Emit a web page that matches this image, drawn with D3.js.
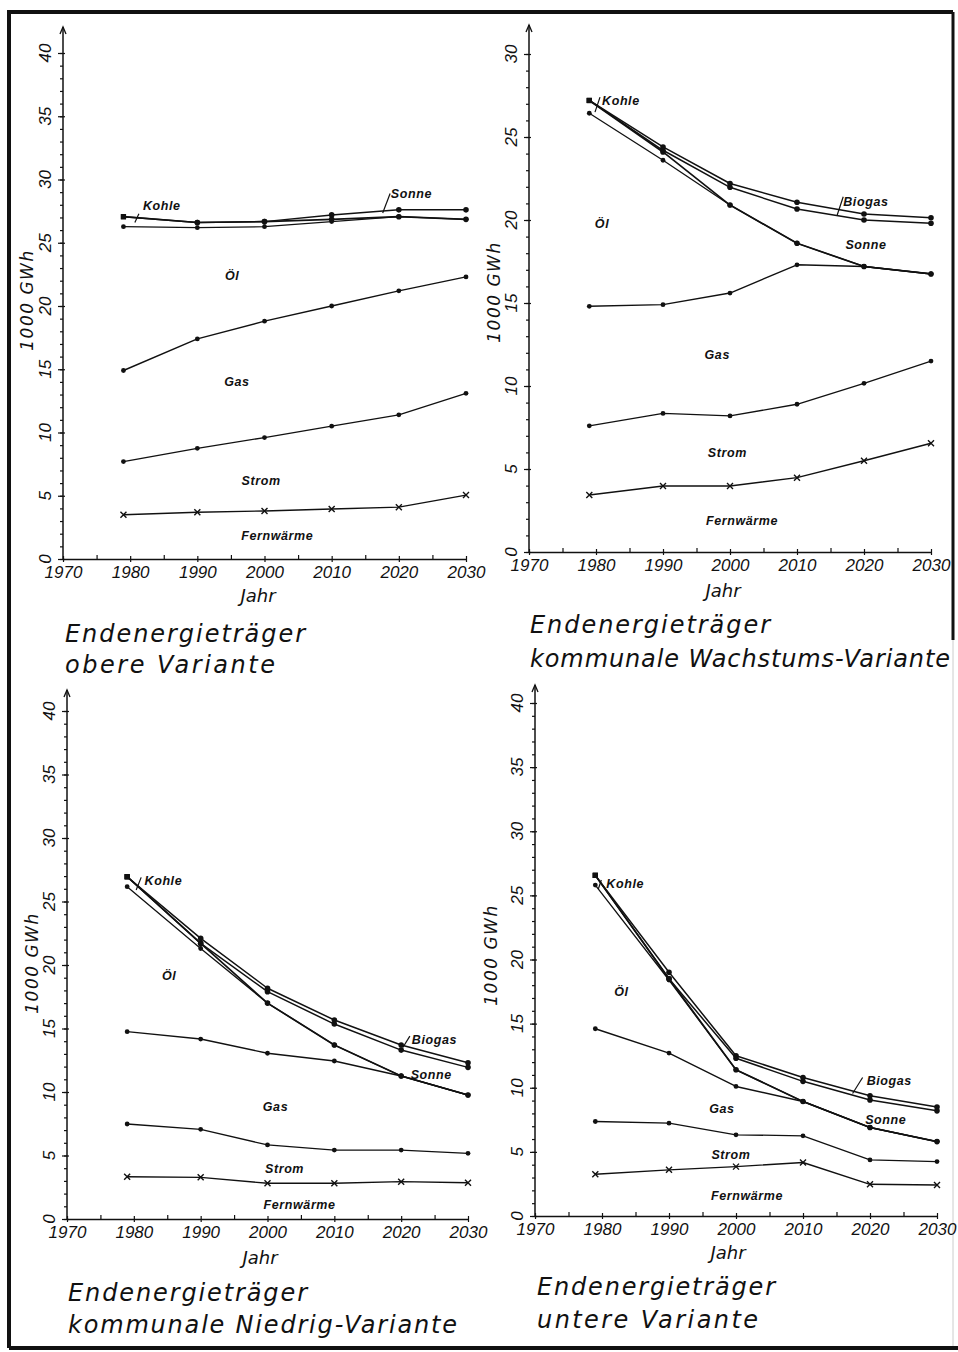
<!DOCTYPE html>
<html>
<head>
<meta charset="utf-8">
<script src="https://cdn.jsdelivr.net/npm/d3@7"></script>
<style>
  body { margin: 0; background: #fff; }
  svg { display: block; }
</style>
</head>
<body>
<svg id="chart" width="958" height="1352"></svg>
<script>
// years of the data points (first point is the base year, drawn just before 1980)
const years = [1979, 1990, 2000, 2010, 2020, 2030];
const xTicks = [1970, 1980, 1990, 2000, 2010, 2020, 2030];
const variants = ["obere Variante", "kommunale Wachstums-Variante",
                  "kommunale Niedrig-Variante", "untere Variante"];

// cumulative line values in 1000 GWh, one row per variant (order as above)
const fernwaerme = [
  [3.5, 3.7, 3.8, 3.95, 4.1, 5.05],
  [3.43, 3.98, 3.98, 4.48, 5.5, 6.55],
  [3.33, 3.28, 2.81, 2.81, 2.94, 2.86],
  [3.26, 3.6, 3.85, 4.17, 2.47, 2.42]
];
const strom = [
  [7.7, 8.75, 9.6, 10.5, 11.4, 13.1],
  [7.6, 8.35, 8.2, 8.9, 10.16, 11.5],
  [7.48, 7.06, 5.83, 5.43, 5.43, 5.17],
  [7.37, 7.24, 6.33, 6.25, 4.37, 4.24]
];
const gas = [
  [14.9, 17.4, 18.8, 20.0, 21.2, 22.3],
  [14.8, 14.9, 15.6, 17.3, 17.2, 16.75],
  [14.75, 14.17, 13.05, 12.44, 11.26, 9.76],
  [14.6, 12.7, 10.1, 8.93, 6.9, 5.8]
];
const oel = [
  [26.27, 26.19, 26.27, 26.67, 27.06, 26.85],
  [26.43, 23.6, 20.9, 18.6, 17.2, 16.75],
  [26.17, 21.3, 17.0, 13.7, 11.26, 9.76],
  [25.8, 18.4, 11.4, 8.93, 6.9, 5.8]
];
const kohle = [
  [27.06, 26.6, 26.67, 26.85, 27.06, 26.85],
  [27.2, 24.1, 20.9, 18.6, 17.2, 16.75],
  [26.95, 21.7, 17.0, 13.7, 11.26, 9.76],
  [26.56, 18.5, 11.4, 8.93, 6.9, 5.8]
];
const sonne = [
  [27.06, 26.6, 26.67, 27.2, 27.6, 27.6],
  [27.2, 24.2, 21.97, 20.66, 20.0, 19.8],
  [26.95, 21.7, 17.9, 15.35, 13.3, 11.94],
  [26.56, 18.5, 12.3, 10.5, 9.04, 8.2]
];
const biogas = [
  null,
  [27.2, 24.4, 22.2, 21.07, 20.36, 20.14],
  [26.95, 22.1, 18.17, 15.67, 13.7, 12.3],
  [26.56, 19.0, 12.5, 10.8, 9.375, 8.5]
];
const seriesNames = ["Fernwärme", "Strom", "Gas", "Öl", "Kohle", "Sonne", "Biogas"];
const seriesData = [fernwaerme, strom, gas, oel, kohle, sonne, biogas];

// panel layout (pixels)
const panels = [
  { x0: 63, x1: 466, yBase: 559, yMax: 40, yTopPx: 53, arrowTop: 27,
    yTitle: [28, 300], jahr: [258, 596], title: [65, 642, 673], capW: [240, 210] },
  { x0: 529, x1: 931, yBase: 552, yMax: 30, yTopPx: 54, arrowTop: 25,
    yTitle: [495, 292], jahr: [723, 591], title: [530, 633, 667], capW: [240, 420] },
  { x0: 67, x1: 468, yBase: 1219, yMax: 40, yTopPx: 711, arrowTop: 690,
    yTitle: [33, 963], jahr: [260, 1258], title: [68, 1301, 1333], capW: [239, 389] },
  { x0: 535, x1: 937, yBase: 1216, yMax: 40, yTopPx: 703, arrowTop: 685,
    yTitle: [492, 955], jahr: [728, 1253], title: [537, 1295, 1328], capW: [238, 221] }
];

// inline labels in data coordinates (year, value)
const inlineLabels = [
  [
    { t: "Kohle", yr: 1981.9, v: 27.6, a: "start", lead: [1981.3, 27.3, 1980.7, 26.6] },
    { t: "Sonne", yr: 2018.8, v: 28.5, a: "start", lead: [2018.7, 28.9, 2017.6, 27.35] },
    { t: "Öl", yr: 1995.2, v: 22.3, a: "middle" },
    { t: "Gas", yr: 1995.9, v: 13.9, a: "middle" },
    { t: "Strom", yr: 1999.5, v: 6.1, a: "middle" },
    { t: "Fernwärme", yr: 2001.9, v: 1.8, a: "middle" }
  ],
  [
    { t: "Kohle", yr: 1980.9, v: 26.9, a: "start", lead: [1980.6, 27.4, 1979.85, 26.5] },
    { t: "Biogas", yr: 2016.9, v: 20.84, a: "start", lead: [2016.9, 21.4, 2016.0, 20.3] },
    { t: "Sonne", yr: 2020.3, v: 18.45, a: "middle" },
    { t: "Öl", yr: 1980.9, v: 19.7, a: "middle" },
    { t: "Gas", yr: 1998.1, v: 11.8, a: "middle" },
    { t: "Strom", yr: 1999.6, v: 5.9, a: "middle" },
    { t: "Fernwärme", yr: 2001.8, v: 1.8, a: "middle" }
  ],
  [
    { t: "Kohle", yr: 1981.6, v: 26.3, a: "start", lead: [1981.1, 26.9, 1980.35, 25.9] },
    { t: "Öl", yr: 1985.3, v: 19.1, a: "middle" },
    { t: "Biogas", yr: 2021.6, v: 13.8, a: "start", lead: [2021.3, 14.4, 2020.25, 13.5] },
    { t: "Sonne", yr: 2024.5, v: 11.3, a: "middle" },
    { t: "Gas", yr: 2001.2, v: 8.8, a: "middle" },
    { t: "Strom", yr: 2002.55, v: 3.9, a: "middle" },
    { t: "Fernwärme", yr: 2004.8, v: 1.05, a: "middle" }
  ],
  [
    { t: "Kohle", yr: 1980.65, v: 25.6, a: "start", lead: [1979.9, 26.2, 1979.45, 25.5] },
    { t: "Öl", yr: 1982.9, v: 17.4, a: "middle" },
    { t: "Biogas", yr: 2019.5, v: 10.2, a: "start", lead: [2018.9, 10.8, 2017.4, 9.55] },
    { t: "Sonne", yr: 2022.35, v: 7.4, a: "middle" },
    { t: "Gas", yr: 1997.9, v: 8.3, a: "middle" },
    { t: "Strom", yr: 1999.25, v: 4.7, a: "middle" },
    { t: "Fernwärme", yr: 2001.65, v: 1.5, a: "middle" }
  ]
];

const svg = d3.select("#chart");
svg.append("rect").attr("width", 958).attr("height", 1352).attr("fill", "#fff");

const tickFont = "'Liberation Sans Narrow', 'Liberation Sans', sans-serif";
const handFont = "'DejaVu Sans', sans-serif";
const ink = "#111";

// outer frame of the scanned sheet
const frame = svg.append("g").attr("stroke", ink).attr("fill", "none");
frame.append("path").attr("d", "M9,1348 L9,12 L953,12").attr("stroke-width", 4);
frame.append("line").attr("x1", 953).attr("y1", 12).attr("x2", 953).attr("y2", 640).attr("stroke-width", 3);
frame.append("line").attr("x1", 953).attr("y1", 640).attr("x2", 953).attr("y2", 1348)
  .attr("stroke-width", 1).attr("stroke", "#ccc");
frame.append("line").attr("x1", 9).attr("y1", 1348).attr("x2", 958).attr("y2", 1348).attr("stroke-width", 4);

const strokeW = [1.4, 1.3, 1.4, 1.3, 1.7, 1.5, 1.5];

panels.forEach((p, i) => {
  const g = svg.append("g").attr("class", "panel");
  const x = d3.scaleLinear().domain([1970, 2030]).range([p.x0, p.x1]);
  const y = d3.scaleLinear().domain([0, p.yMax]).range([p.yBase, p.yTopPx]);

  // y axis: minor ticks every unit, major every 5
  const yMinor = g.append("g").attr("transform", `translate(${p.x0},0)`)
    .call(d3.axisLeft(y).tickValues(d3.range(0, p.yMax + 1, 1)).tickSize(3).tickFormat(""));
  const yMajor = g.append("g").attr("transform", `translate(${p.x0},0)`)
    .call(d3.axisLeft(y).tickValues(d3.range(0, p.yMax + 1, 5)).tickSizeInner(5).tickSizeOuter(0).tickFormat(""));
  [yMinor, yMajor].forEach(a => {
    a.select(".domain").remove();
    a.selectAll("line").attr("stroke", ink).attr("stroke-width", 1.2);
  });
  yMajor.selectAll(".tick line").attr("x2", 2).attr("x1", -5);

  // axis line with arrow
  g.append("line").attr("x1", p.x0).attr("x2", p.x0)
    .attr("y1", p.yBase).attr("y2", p.arrowTop)
    .attr("stroke", ink).attr("stroke-width", 1.5);
  g.append("path")
    .attr("d", `M${p.x0 - 3},${p.arrowTop + 7} L${p.x0},${p.arrowTop} L${p.x0 + 3},${p.arrowTop + 7}`)
    .attr("fill", "none").attr("stroke", ink).attr("stroke-width", 1.3);

  // rotated y tick labels
  g.append("g").selectAll("text")
    .data(d3.range(0, p.yMax + 1, 5))
    .join("text")
    .attr("transform", d => `translate(${p.x0 - 16},${y(d)}) rotate(-90)`)
    .attr("text-anchor", "middle")
    .attr("dominant-baseline", "middle")
    .style("font-family", tickFont)
    .style("font-style", "italic")
    .style("font-size", "17px")
    .attr("fill", ink)
    .text(d => d);

  // x axis
  const xMinor = g.append("g").attr("transform", `translate(0,${p.yBase})`)
    .call(d3.axisBottom(x).tickValues(d3.range(1975, 2031, 10)).tickSizeInner(-4).tickSizeOuter(0).tickFormat(""));
  const xMajor = g.append("g").attr("transform", `translate(0,${p.yBase})`)
    .call(d3.axisBottom(x).tickValues(xTicks).tickSizeInner(3).tickSizeOuter(0).tickPadding(4).tickFormat(d3.format("d")));
  xMinor.select(".domain").remove();
  xMinor.selectAll("line").attr("stroke", ink).attr("stroke-width", 1.2);
  xMajor.select(".domain").attr("stroke", ink).attr("stroke-width", 1.6);
  xMajor.selectAll(".tick line").attr("stroke", ink).attr("stroke-width", 1.2).attr("y1", -3);
  xMajor.selectAll(".tick text")
    .style("font-family", tickFont)
    .style("font-style", "italic")
    .style("font-size", "17px")
    .attr("fill", ink);

  // axis titles
  g.append("text")
    .attr("x", p.jahr[0]).attr("y", p.jahr[1] + 6)
    .attr("text-anchor", "middle")
    .style("font-family", handFont).style("font-weight", 200)
    .style("font-style", "italic").style("font-size", "18px")
    .attr("fill", ink).text("Jahr");
  g.append("text")
    .attr("transform", `translate(${p.yTitle[0]},${p.yTitle[1]}) rotate(-90)`)
    .attr("text-anchor", "middle").attr("dominant-baseline", "middle")
    .style("font-family", handFont).style("font-weight", 200)
    .style("font-style", "italic").style("font-size", "17px")
    .style("letter-spacing", "1.5px")
    .attr("fill", ink).text("1000 GWh");

  // series lines
  const line = d3.line().x((d, j) => x(years[j])).y(d => y(d));
  seriesData.forEach((sd, s) => {
    const vals = sd[i];
    if (!vals) return;
    g.append("path")
      .datum(vals)
      .attr("class", "series")
      .attr("d", line)
      .attr("fill", "none")
      .attr("stroke", ink)
      .attr("stroke-width", strokeW[s])
      .attr("stroke-linejoin", "round");
  });

  // markers
  seriesData.forEach((sd, s) => {
    const vals = sd[i];
    if (!vals) return;
    const mg = g.append("g");
    vals.forEach((v, j) => {
      const cx = x(years[j]), cy = y(v);
      if (s === 0) {
        mg.append("path")
          .attr("d", `M${cx - 3},${cy - 3}L${cx + 3},${cy + 3}M${cx - 3},${cy + 3}L${cx + 3},${cy - 3}`)
          .attr("stroke", ink).attr("stroke-width", 1.4);
      } else if (j === 0 && s >= 4) {
        mg.append("rect").attr("x", cx - 2.6).attr("y", cy - 2.6)
          .attr("width", 5.2).attr("height", 5.2).attr("fill", ink);
      } else {
        mg.append("circle").attr("cx", cx).attr("cy", cy)
          .attr("r", s >= 4 ? 2.8 : 2.4).attr("fill", ink);
      }
    });
  });

  // inline series labels
  inlineLabels[i].forEach(l => {
    g.append("text")
      .attr("x", x(l.yr)).attr("y", y(l.v))
      .attr("text-anchor", l.a)
      .attr("dominant-baseline", l.a === "middle" ? "middle" : "auto")
      .style("font-family", "'Liberation Sans', sans-serif")
      .style("font-weight", "bold").style("font-style", "italic")
      .style("font-size", "12.5px").style("letter-spacing", "0.6px")
      .attr("fill", ink).text(l.t);
    if (l.lead) {
      g.append("line")
        .attr("x1", x(l.lead[0])).attr("y1", y(l.lead[1]))
        .attr("x2", x(l.lead[2])).attr("y2", y(l.lead[3]))
        .attr("stroke", ink).attr("stroke-width", 1.2);
    }
  });

  // caption below each panel
  const cap = g.append("text")
    .style("font-family", handFont).style("font-weight", 200)
    .style("font-style", "italic").style("font-size", "24px")
    .attr("fill", ink);
  cap.append("tspan").attr("x", p.title[0]).attr("y", p.title[1])
    .attr("textLength", p.capW[0]).attr("lengthAdjust", "spacing").text("Endenergieträger");
  cap.append("tspan").attr("x", p.title[0]).attr("y", p.title[2])
    .attr("textLength", p.capW[1]).attr("lengthAdjust", "spacing").text(variants[i]);
});
</script>
</body>
</html>
